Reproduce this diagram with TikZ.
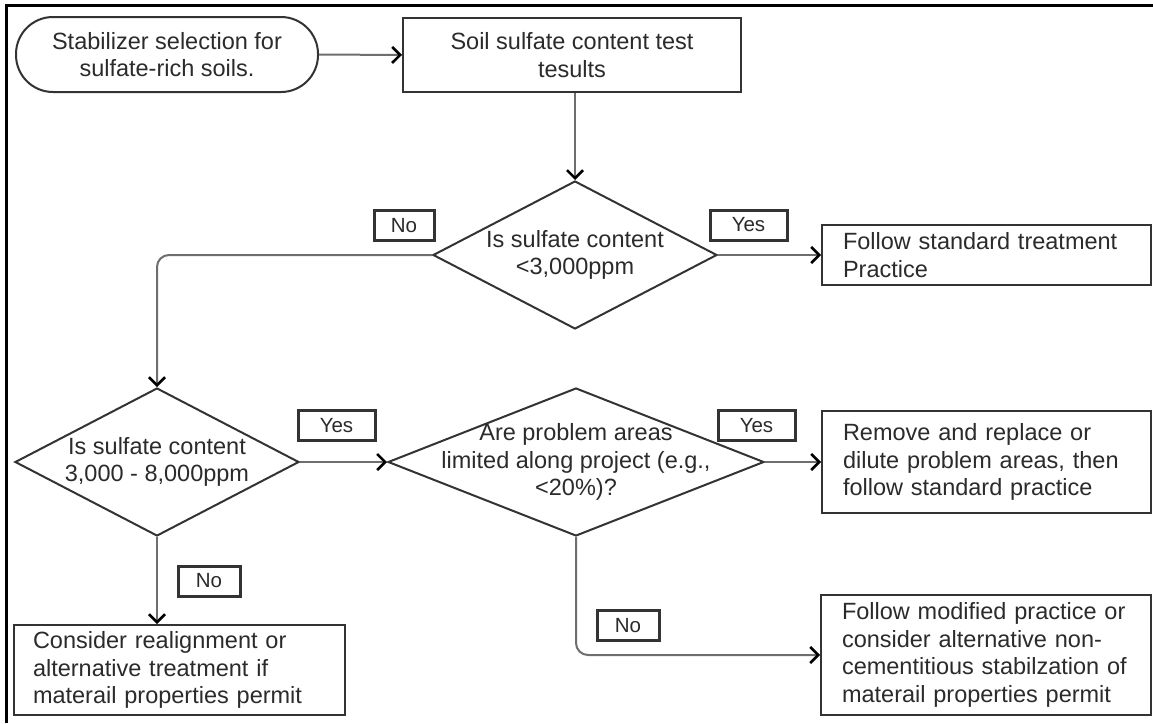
\documentclass[tikz,border=0pt]{standalone}
\usepackage{fontspec}
\setmainfont{Liberation Sans}
\usetikzlibrary{shapes.geometric,arrows.meta}
\definecolor{shapeln}{HTML}{333333}
\definecolor{connln}{HTML}{6E6E6E}
\definecolor{txtc}{HTML}{2B2B2B}
\begin{document}
\begin{tikzpicture}[x=1pt,y=-1pt,
  every node/.style={text=txtc},
  mainfont/.style={font=\fontsize{23.5}{27.5}\selectfont},
  box/.style={draw=shapeln, line width=2pt, fill=white, inner sep=0pt, mainfont},
  lbox/.style={box, align=left},
  startbox/.style={box, rounded corners=37pt, align=center},
  dia/.style={diamond, draw=shapeln, line width=2pt, inner sep=0pt, fill=white},
  dtext/.style={mainfont, align=center, inner sep=0pt},
  lbl/.style={draw=shapeln, line width=3pt, fill=white, inner sep=0pt, minimum height=30pt,
              font=\fontsize{20.5}{24}\selectfont},
  conn/.style={draw=connln, line width=2pt,
               -{Straight Barb[length=8pt,width=16pt,line width=2.6pt,color=black]}}
]
\useasboundingbox (0,0) rectangle (1153,723);
\fill[white] (0,0) rectangle (1153,723);
% outer frame (top and left edges visible)
\draw[line width=3pt, black] (6.5,723) -- (6.5,5.5) -- (1153,5.5);

% nodes
\node[startbox, minimum width=302pt, minimum height=75pt] (start) at (167,54.5)
  {Stabilizer selection for\\sulfate-rich soils.};
\node[box, align=center, minimum width=338pt, minimum height=74pt] (b2) at (572,55)
  {Soil sulfate content test\\tesults};

\node[dia, minimum width=284pt, minimum height=148pt] (d1) at (575,255) {};
\node[dtext] (t1) at (d1.center) {Is sulfate content\\<3,000ppm};

\node[lbox, text width=287pt, inner xsep=21pt, minimum height=60pt] (b3) at (986.5,255)
  {Follow standard treatment\\Practice};

\node[dia, minimum width=284pt, minimum height=148pt] (d2) at (157,462) {};
\node[dtext] (t2) at (d2.center) {Is sulfate content\\3,000 - 8,000ppm};

\node[dia, minimum width=376pt, minimum height=148pt] (d3) at (576,462) {};
\node[dtext] (t3) at (d3.center) {Are problem areas\\limited along project (e.g.,\\<20\%)?};

\node[lbox, text width=287pt, inner xsep=21pt, minimum height=102pt] (b4) at (986.5,462)
  {Remove and replace or\\dilute problem areas, then\\follow standard practice};

\node[lbox, text width=293pt, inner xsep=19pt, minimum height=90pt] (b5) at (179.5,670)
  {Consider realignment or\\alternative treatment if\\materail properties permit};

\node[lbox, text width=288pt, inner xsep=21pt, minimum height=120pt] (b6) at (986,655)
  {Follow modified practice or\\consider alternative non-\\cementitious stabilzation of\\materail properties permit};

% labels
\node[lbl, minimum width=60pt] (no1) at (404,225.5) {No};
\node[lbl, minimum width=77pt] (yes1) at (748.5,225) {Yes};
\node[lbl, minimum width=77pt] (yes2) at (336.5,425.5) {Yes};
\node[lbl, minimum width=77pt] (yes3) at (756.5,425.5) {Yes};
\node[lbl, minimum width=62pt] (no2) at (209,581) {No};
\node[lbl, minimum width=62pt] (no3) at (628,625.5) {No};

% connectors
\draw[conn] (start.east) -- (b2.west);
\draw[conn] (d1.north |- b2.south) -- (d1.north);
\draw[conn] (d1.east) -- (b3.west);
\draw[conn, rounded corners=12pt] (d1.west) -| (d2.north);
\draw[conn] (d2.east) -- (d3.west);
\draw[conn] (d3.east) -- (b4.west);
\draw[conn] (d2.south) -- (d2.south |- b5.north);
\draw[conn, rounded corners=12pt] (d3.south) |- (b6.west);
\end{tikzpicture}
\end{document}
